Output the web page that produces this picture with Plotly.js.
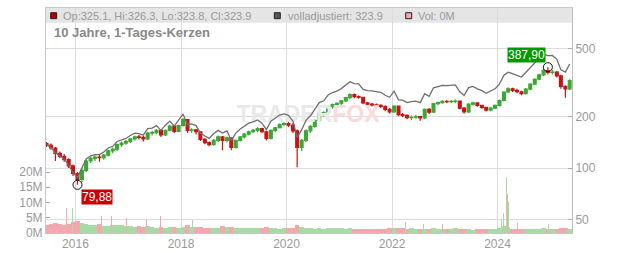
<!DOCTYPE html>
<html><head><meta charset="utf-8">
<script src="https://cdn.plot.ly/plotly-3.0.1.min.js"></script>
<style>html,body{margin:0;padding:0;background:#fff}#chart{width:632px;height:253px}</style>
</head><body><div id="chart"></div>
<script>
// ---- data (monthly candles, first candle = June 2015) ----
const START_YEAR = 2015, START_MONTH = 6;
const openP = [
 139,136,131,122,117,112,103,
 93,86,97,110,114,116,115,119,126,129,137,140,
 143,148,152,151,148,160,161,166,156,166,176,164,
 177,192,166,167,163,147,141,137,145,152,145,150,
 132,145,152,158,163,166,170,163,149,166,172,180,
 182,178,165,132,145,165,175,190,207,211,228,235,
 239,247,258,268,261,259,240,236,234,232,229,220,
 213,230,205,203,197,198,200,196,220,212,238,241,
 245,244,245,246,224,213,236,240,232,226,218,224,
 232,248,278,290,284,279,272,289,309,330,350,370,
 362,363,345,300,290];
const highP = [
 142,139,133,125,121,114,105,
 95,99,112,117,119,120,121,128,132,139,143,146,
 150,155,156,155,163,165,169,168,168,179,178,179,
 196,193,171,169,164,150,143,148,155,154,153,151,
 147,154,160,166,169,173,172,165,168,174,182,185,
 186,183,168,148,168,178,192,209,215,231,238,242,
 250,261,273,272,265,261,243,240,238,236,232,224,
 233,232,210,206,203,205,202,223,224,241,245,249,
 249,250,251,248,227,239,244,242,234,228,227,235,
 251,281,296,294,290,283,293,313,334,355,378,387.9,
 374,368,350,304,330];
const lowP = [
 133,128,110,114,109,100,90,
 79.88,83,95,107,110,109,112,117,122,126,133,137,
 140,145,147,143,146,155,158,152,154,164,160,162,
 175,160,160,157,144,138,134,135,142,127,141,127,
 130,143,149,155,160,162,160,145,147,162,170,176,
 174,160,101,126,142,160,172,186,200,205,222,230,
 233,243,252,256,254,236,230,229,227,224,215,208,
 210,201,198,193,190,194,189,193,207,210,233,237,
 239,240,240,220,208,210,232,228,222,214,215,221,
 229,245,274,278,273,266,269,285,305,326,345,352,
 352,338,290,257,286];
const closeP = [
 136,131,122,117,112,103,93,
 86,97,110,114,116,115,119,126,129,137,140,143,
 148,152,151,148,160,161,166,156,166,176,164,177,
 192,166,167,163,147,141,137,145,152,145,150,132,
 145,152,158,163,166,170,163,149,166,172,180,182,
 178,165,132,145,165,175,190,207,211,228,235,239,
 247,258,268,261,259,240,236,234,232,229,220,213,
 230,205,203,197,198,200,196,220,212,238,241,245,
 244,245,246,224,213,236,240,232,226,218,224,232,
 248,278,290,284,279,272,289,309,330,350,370,362,
 363,345,300,290,323.9];
const adjusted = [
 137,132,123,118,113,104,94,
 88,100,113,118,120,120,124,131,134,143,146,149,
 155,160,159,156,170,171,177,166,178,188,176,190,
 207,179,181,177,160,154,149,159,166,160,165,145,
 160,169,176,183,186,191,183,168,188,195,204,207,
 203,188,151,167,190,202,220,241,247,267,276,281,
 291,306,319,311,310,288,283,282,280,277,266,259,
 281,250,249,241,244,246,241,272,262,294,299,304,
 303,305,306,279,265,295,300,290,283,273,280,290,
 310,348,363,355,349,340,361,386,413,438,463,453,
 454,431,375,363,405];
// typical daily volume level per month, in millions
const volumeM = [
 2.6,2.8,3.4,3.0,2.7,3.1,3.6,
 3.8,3.3,3.0,2.7,2.5,2.9,2.4,2.3,2.6,2.5,2.7,2.4,
 2.2,2.0,2.3,2.0,2.3,1.9,1.8,2.1,1.8,1.9,2.0,1.7,
 2.1,2.5,2.1,1.9,2.0,1.8,1.7,1.6,1.7,2.2,1.9,2.1,
 1.8,1.6,1.7,1.5,1.6,1.5,1.6,1.9,1.6,1.5,1.4,1.5,
 1.6,1.8,2.5,1.9,1.6,1.5,1.4,1.5,1.4,1.5,1.6,1.5,
 1.5,1.4,1.6,1.3,1.4,1.3,1.2,1.3,1.3,1.4,1.4,1.5,
 1.6,1.5,1.6,1.4,1.5,1.3,1.2,1.3,1.4,1.6,1.3,1.4,
 1.3,1.2,1.5,1.3,1.4,1.2,1.1,1.2,1.2,1.4,1.3,1.4,
 1.5,2.2,2.0,1.4,1.3,1.4,1.3,1.4,1.3,1.4,1.5,1.4,
 1.3,1.4,1.6,1.8,1.3];
// single-day volume spikes (millions), up: 1 = green day, 0 = red day
const spikeDates = ['2015-11-02','2015-12-01','2015-12-10','2016-01-25','2016-06-27','2016-09-09','2016-12-20','2017-05-04','2017-08-11','2018-03-22','2021-03-16','2021-06-21','2022-04-05','2022-08-08','2022-12-16','2023-03-13','2024-01-31','2024-02-12','2024-02-22','2024-03-05','2024-03-08','2024-03-15','2024-03-21','2024-05-17','2024-12-20'];
const spikeVols = [8.2,13.1,8.2,5.5,5.7,5.7,4.9,4.3,5.7,4.3,3.0,3.1,3.7,3.1,3.1,6.3,4.6,6.6,6.9,18.4,12.9,10.3,9.6,3.3,3.0];
const spikeUp = [0,0,1,1,0,0,0,0,0,1,0,0,1,1,0,0,1,1,1,1,0,1,1,0,1];
const priceTicks = [50,100,200,500];
const volTicks = [0,5,10,15,20];
const legendTexts = ['Op:325.1, Hi:326.3, Lo:323.8, Cl:323.9','volladjustiert: 323.9','Vol: 0M'];
const titleText = '10 Jahre, 1-Tages-Kerzen';

// ---- styling ----
const UP='#3aa832', DOWN='#c81414', VUP='#a8dba3', VDOWN='#f3a7ae', ADJ='#6e6e6e';
const DAY = 86400000;

const months = closeP.map((_,i)=>{const m=START_MONTH-1+i;const y=START_YEAR+Math.floor(m/12);const mm=(m%12)+1;return y+'-'+String(mm).padStart(2,'0')+'-15';});
let maxIdx=0,minIdx=0;
highP.forEach((v,i)=>{if(v>highP[maxIdx])maxIdx=i;});
lowP.forEach((v,i)=>{if(v<lowP[minIdx])minIdx=i;});
const fmt=v=>v.toFixed(2).replace('.',',');

const traces = [
 {type:'scatter',mode:'text',x:['2020-05-29'],y:[201],
  text:['<b><span style="color:#e9e9e9">TRADER</span><span style="color:#fadada">FOX</span></b>'],
  textposition:'middle center',textfont:{size:23,family:'Liberation Sans, Arial, sans-serif'},hoverinfo:'skip',xaxis:'x',yaxis:'y'},
 {type:'scatter',mode:'lines',x:months,y:adjusted,line:{color:ADJ,width:1.3},hoverinfo:'skip',xaxis:'x',yaxis:'y'},
 {type:'candlestick',x:months,open:openP,high:highP,low:lowP,close:closeP,
  increasing:{line:{color:UP,width:1.2},fillcolor:UP},decreasing:{line:{color:DOWN,width:1.2},fillcolor:DOWN},
  whiskerwidth:0,hoverinfo:'skip',xaxis:'x',yaxis:'y'},
 {type:'scatter',mode:'markers',x:[months[minIdx],months[maxIdx]],y:[lowP[minIdx],highP[maxIdx]],
  marker:{symbol:'circle-open',size:9,color:'#111',line:{width:1,color:'#111'}},hoverinfo:'skip',xaxis:'x',yaxis:'y'},
 {type:'bar',x:months,y:volumeM,width:31*DAY,marker:{color:closeP.map((c,i)=>c>=openP[i]?VUP:VDOWN),line:{width:0}},hoverinfo:'skip',xaxis:'x',yaxis:'y2'},
 {type:'bar',x:spikeDates,y:spikeVols,width:6*DAY,marker:{color:spikeUp.map(u=>u?VUP:VDOWN),line:{width:0}},hoverinfo:'skip',xaxis:'x',yaxis:'y2'}
];

const PL=46, PW=526, PB=233, PH=225;
const px=v=>(v-PL)/PW, py=v=>(PB-v)/PH;
const sq=(x0,fill)=>({type:'rect',xref:'paper',yref:'paper',x0:px(x0),x1:px(x0+6),y0:py(18.7),y1:py(12.7),fillcolor:fill,line:{color:'#222',width:1},layer:'above'});

const layout = {
 width:632,height:253,margin:{l:46,r:60,t:8,b:20,pad:0},
 paper_bgcolor:'#fff',plot_bgcolor:'#fff',
 font:{family:'Liberation Sans, Arial, sans-serif',size:12,color:'#999'},
 showlegend:false,bargap:0,barmode:'overlay',boxgap:0,
 xaxis:{type:'date',range:['2015-06-11','2025-05-31'],tick0:'2016-01-01',dtick:'M24',tickformat:'%Y',
  showgrid:true,gridcolor:'#dcdcdc',gridwidth:1,showline:true,linecolor:'#c8c8c8',mirror:true,ticks:'',
  zeroline:false,rangeslider:{visible:false},fixedrange:true,tickfont:{size:12,color:'#999'}},
 yaxis:{type:'log',side:'right',range:[1.6214,2.9341],tickvals:priceTicks,ticktext:priceTicks.map(String),
  showgrid:true,gridcolor:'#dcdcdc',showline:true,linecolor:'#bdbdbd',ticks:'inside',ticklen:4,tickcolor:'#aaa',
  zeroline:false,fixedrange:true,tickfont:{size:12,color:'#999'}},
 yaxis2:{overlaying:'y',side:'left',range:[0,73.8],tickvals:volTicks,ticktext:volTicks.map(v=>v+'M'),
  showgrid:false,showline:true,linecolor:'#c8c8c8',ticks:'inside',ticklen:4,tickcolor:'#aaa',
  zeroline:false,fixedrange:true,tickfont:{size:12,color:'#999'}},
 shapes:[
  {type:'rect',xref:'paper',yref:'paper',x0:0,x1:1,y0:py(22.7),y1:1,fillcolor:'#e5e5e5',line:{width:0},layer:'below'},
  sq(50.7,'#b30000'), sq(274.3,'#555555'), sq(405.7,'#f4a7b0')
 ],
 annotations:[
  {xref:'paper',yref:'paper',x:px(61.3),y:py(15.7),xanchor:'left',yanchor:'middle',text:legendTexts[0],showarrow:false,font:{size:11,color:'#999'}},
  {xref:'paper',yref:'paper',x:px(285.7),y:py(15.7),xanchor:'left',yanchor:'middle',text:legendTexts[1],showarrow:false,font:{size:11,color:'#999'}},
  {xref:'paper',yref:'paper',x:px(416.3),y:py(15.7),xanchor:'left',yanchor:'middle',text:legendTexts[2],showarrow:false,font:{size:11,color:'#999'}},
  {xref:'paper',yref:'paper',x:px(51.7),y:py(32.3),xanchor:'left',yanchor:'middle',text:'<b>'+titleText+'</b>',showarrow:false,font:{size:13,color:'#888'}},
  {xref:'x',yref:'y',x:months[minIdx],y:Math.log10(lowP[minIdx]),xanchor:'left',yanchor:'top',xshift:4,yshift:-4,
   text:fmt(lowP[minIdx]),showarrow:false,bgcolor:'#cc0000',borderpad:0,font:{size:12,color:'#fff'}},
  {xref:'x',yref:'y',x:months[maxIdx],y:Math.log10(highP[maxIdx]),xanchor:'right',yanchor:'bottom',xshift:-2,yshift:4,
   text:fmt(highP[maxIdx]),showarrow:false,bgcolor:'#009900',borderpad:0,font:{size:12,color:'#fff'}}
 ]
};
Plotly.newPlot('chart',traces,layout,{staticPlot:true,displayModeBar:false});
</script></body></html>
